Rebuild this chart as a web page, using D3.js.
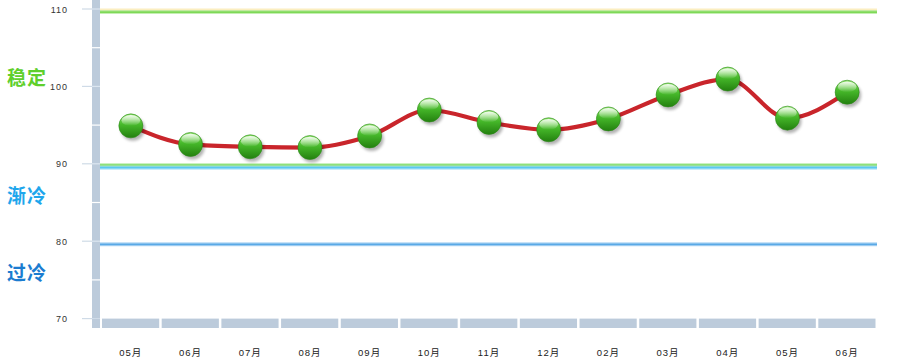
<!DOCTYPE html>
<html><head><meta charset="utf-8">
<script src="https://cdn.jsdelivr.net/npm/d3@7"></script>
<style>
html,body{margin:0;padding:0;background:#fff;}
svg{display:block;}
</style></head>
<body>
<svg id="chart" width="898" height="364"></svg>
<script>
const months = ["05月","06月","07月","08月","09月","10月","11月","12月","02月","03月","04月","05月","06月"];
const values = [94.9, 92.5, 92.2, 92.1, 93.6, 96.95, 95.35, 94.4, 95.8, 98.9, 100.95, 95.9, 99.25];
const yTicks = [70, 80, 90, 100, 110];
const yMinorTicks = [75, 85, 95, 105];
const zoneLabels = ["稳定", "渐冷", "过冷"];
const zoneLabelValues = [101.1, 85.85, 75.9];
const zoneLabelColors = ["#5fcf2c", "#1ea6ec", "#1b7cd0"];
const thresholdValues = [109.6, 89.85, 89.5, 79.6];
const thresholdColors = ["#7ed957", "#8fe07a", "#5ac8f0", "#5aa9e6"];

const svg = d3.select("#chart");
const x = d3.scaleBand().domain(d3.range(months.length)).range([101, 877]);
const y = d3.scaleLinear().domain([70, 110]).range([318.6, 9]);

const defs = svg.append("defs");
const g1 = defs.append("linearGradient").attr("id","ball").attr("x1",0).attr("y1",0).attr("x2",0).attr("y2",1);
g1.append("stop").attr("offset","0%").attr("stop-color","#8fe46a");
g1.append("stop").attr("offset","45%").attr("stop-color","#46b82a");
g1.append("stop").attr("offset","100%").attr("stop-color","#23800f");
const g2 = defs.append("linearGradient").attr("id","hl").attr("x1",0).attr("y1",0).attr("x2",0).attr("y2",1);
g2.append("stop").attr("offset","0%").attr("stop-color","#fff").attr("stop-opacity",0.9);
g2.append("stop").attr("offset","100%").attr("stop-color","#fff").attr("stop-opacity",0);
const f = defs.append("filter").attr("id","sh").attr("x","-50%").attr("y","-50%").attr("width","200%").attr("height","200%");
f.append("feGaussianBlur").attr("stdDeviation",1.5);

// y axis bar
const barX0 = 92, barX1 = 100;
svg.append("rect").attr("x",barX0).attr("y",0).attr("width",barX1-barX0).attr("height",y(70)-0)
  .attr("fill","#bccbdb");
svg.selectAll(".ysep").data(yTicks.concat(yMinorTicks)).join("line")
  .attr("x1",barX0).attr("x2",barX1).attr("y1",d=>y(d)).attr("y2",d=>y(d))
  .attr("stroke",d=>yTicks.includes(d)?"#dce6f0":"#ffffff").attr("stroke-width",1.2);
svg.selectAll(".ytick").data(yTicks).join("line")
  .attr("x1",82).attr("x2",barX0).attr("y1",d=>y(d)).attr("y2",d=>y(d))
  .attr("stroke","#cfdbe7").attr("stroke-width",1.2);
svg.selectAll(".ylab").data(yTicks).join("text")
  .attr("x",68).attr("y",d=>y(d)+3.5).attr("text-anchor","end")
  .attr("font-family","Arial, 'Liberation Sans', sans-serif").attr("font-size",9)
  .attr("letter-spacing","1px").attr("fill","#333").text(d=>d);

// x axis bar
const xb0 = y(70), xb1 = 328;
svg.append("rect").attr("x",barX0).attr("y",xb0).attr("width",barX1-barX0).attr("height",xb1-xb0).attr("fill","#bccbdb");
svg.selectAll(".xseg").data(d3.range(months.length)).join("rect")
  .attr("x",d=>x(d)+1).attr("y",xb0).attr("width",x.bandwidth()-2.5).attr("height",xb1-xb0)
  .attr("fill","#bccbdb");
svg.selectAll(".xlab").data(months).join("text")
  .attr("x",(d,i)=>x(i)+x.bandwidth()/2).attr("y",356).attr("text-anchor","middle")
  .attr("font-family","Arial, 'Liberation Sans', 'Noto Sans CJK SC', sans-serif").attr("font-size",9.5)
  .attr("letter-spacing","1px").attr("fill","#222").text(d=>d);

// threshold lines
const lx0 = 100, lx1 = 877;
svg.append("line").attr("x1",lx0).attr("x2",lx1).attr("y1",y(thresholdValues[0])-2.5).attr("y2",y(thresholdValues[0])-2.5)
  .attr("stroke","#fbeec0").attr("stroke-width",2);
thresholdValues.forEach((v,i)=>{
  svg.append("line").attr("x1",lx0).attr("x2",lx1).attr("y1",y(v)).attr("y2",y(v))
    .attr("stroke",thresholdColors[i]).attr("stroke-opacity",0.45).attr("stroke-width",4);
  svg.append("line").attr("x1",lx0).attr("x2",lx1).attr("y1",y(v)).attr("y2",y(v))
    .attr("stroke",thresholdColors[i]).attr("stroke-width",1.8);
});

// zone labels
svg.selectAll(".zl").data(zoneLabels).join("text")
  .attr("x",7).attr("y",(d,i)=>y(zoneLabelValues[i])+7)
  .attr("font-family","'Noto Sans CJK SC', sans-serif").attr("font-weight","bold").attr("font-size",19)
  .attr("letter-spacing","1px")
  .attr("fill",(d,i)=>zoneLabelColors[i]).text(d=>d);

// line
const line = d3.line().x((d,i)=>x(i)+x.bandwidth()/2).y(d=>y(d)).curve(d3.curveMonotoneX);
svg.append("path").datum(values).attr("d",line).attr("fill","none")
  .attr("stroke","#c9252b").attr("stroke-width",4.2).attr("stroke-linejoin","round");

// markers
const r = 12;
const mk = svg.selectAll(".mk").data(values).join("g")
  .attr("transform",(d,i)=>`translate(${x(i)+x.bandwidth()/2},${y(d)})`);
mk.append("circle").attr("cx",2).attr("cy",3).attr("r",r).attr("fill","#000").attr("opacity",0.3).attr("filter","url(#sh)");
mk.append("circle").attr("r",r).attr("fill","url(#ball)").attr("stroke","#2b8a18").attr("stroke-width",0.6);
mk.append("ellipse").attr("cx",0).attr("cy",-r*0.45).attr("rx",r*0.78).attr("ry",r*0.45).attr("fill","url(#hl)");
</script>
</body></html>
